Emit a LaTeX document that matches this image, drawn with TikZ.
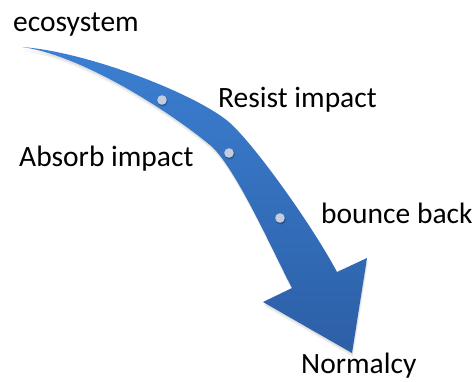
\documentclass[tikz,border=0pt]{standalone}
\usepackage{fontspec}
\setmainfont{Carlito}
\begin{document}
\begin{tikzpicture}[x=1pt,y=-1pt,
  lbl/.style={anchor=base west,inner sep=0pt,font=\fontsize{29.5}{34}\selectfont,text=black},
  bead/.style={fill=beadcol},
  beadshadow/.style={fill=black,opacity=0.25},
]
\definecolor{arrtop}{RGB}{60,127,210}
\definecolor{arrbot}{RGB}{44,95,166}
\definecolor{beadcol}{RGB}{196,204,224}
\useasboundingbox (0,0) rectangle (476,381);
\fill[white] (0,0) rectangle (476,381);

% outline of the curved arrow
\def\arrowpath{
  (22,47) .. controls (90,52) and (200,96) .. (230,123)
          .. controls (255,145.5) and (312,225) .. (337,272)
  -- (367,258) -- (352,353) -- (263,302) -- (292,288)
          .. controls (275,256) and (235,165.5) .. (210,145)
          .. controls (165,108) and (80,55) .. (22,47) -- cycle}

% soft drop shadow
\fill[black,opacity=0.06,shift={(1,4)}] \arrowpath;
\fill[black,opacity=0.07,shift={(0.5,2)}] \arrowpath;

% arrow body
\shade[top color=arrtop,bottom color=arrbot] \arrowpath;

% beads on the shaft
\foreach \p in {(162,100),(229,153),(280,218)}{
  \fill[beadshadow] \p ++(0.6,1.2) circle (5.2);
  \fill[bead] \p circle (4.8);
}

% labels
\node[lbl] (eco) at (13,31) {ecosystem};
\node[lbl] (resist) at (218,107) {Resist impact};
\node[lbl] (absorb) at (19,166) {Absorb impact};
\node[lbl] (bounce) at (321,223) {bounce back};
\node[lbl] (norm) at (301,373) {Normalcy};
\end{tikzpicture}
\end{document}
